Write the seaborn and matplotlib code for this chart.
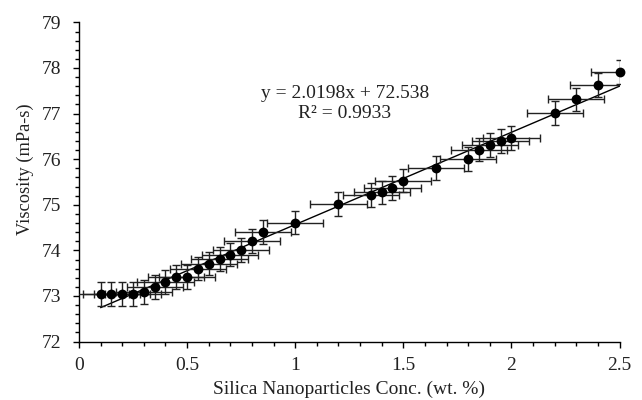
import numpy as np
import pandas as pd
import matplotlib
matplotlib.use("Agg")
import matplotlib.pyplot as plt
import seaborn as sns
from matplotlib.ticker import MultipleLocator, FormatStrFormatter

# Data
conc = [0.10, 0.15, 0.20, 0.25, 0.30, 0.35, 0.40, 0.45, 0.50, 0.55, 0.60,
        0.65, 0.70, 0.75, 0.80, 0.85, 1.00, 1.20, 1.35, 1.40, 1.45, 1.50,
        1.65, 1.80, 1.85, 1.90, 1.95, 2.00, 2.20, 2.30, 2.40, 2.50]
viscosity = [73.05, 73.05, 73.05, 73.05, 73.08, 73.20, 73.31, 73.41, 73.41,
             73.60, 73.71, 73.81, 73.91, 74.01, 74.20, 74.41, 74.61, 75.01,
             75.21, 75.27, 75.37, 75.53, 75.81, 76.01, 76.21, 76.31, 76.40,
             76.46, 77.01, 77.31, 77.62, 77.91]
x_err = 0.13
y_err = 0.26
eq_text = "y = 2.0198x + 72.538"
r2_text = "R² = 0.9933"
x_label = "Silica Nanoparticles Conc. (wt. %)"
y_label = "Viscosity (mPa-s)"

df = pd.DataFrame({"conc": conc, "visc": viscosity})

sns.set_theme(style="ticks")
plt.rcParams["font.family"] = ["Liberation Serif", "DejaVu Serif"]

fig = plt.figure(figsize=(6.42, 4.0), dpi=100)
ax = fig.add_axes([0.123, 0.146, 0.842, 0.798])

# trend line
sns.regplot(data=df, x="conc", y="visc", ax=ax, scatter=False, ci=None,
            truncate=True, color="black", line_kws={"lw": 1.0, "zorder": 2})

# error bars
ax.errorbar(df["conc"], df["visc"], xerr=x_err, yerr=y_err, fmt="none",
            ecolor="#222222", elinewidth=1.0, capsize=2.8, capthick=1.0,
            zorder=3)

# points
sns.scatterplot(data=df, x="conc", y="visc", ax=ax, color="black", s=50,
                edgecolor="black", linewidth=0, zorder=4, clip_on=False)

ax.set_xlim(0, 2.5)
ax.set_ylim(72, 79)
ax.xaxis.set_major_locator(MultipleLocator(0.5))
ax.xaxis.set_minor_locator(MultipleLocator(0.1))
ax.yaxis.set_major_locator(MultipleLocator(1))
ax.yaxis.set_minor_locator(MultipleLocator(0.2))
ax.xaxis.set_major_formatter(FormatStrFormatter("%g"))
ax.yaxis.set_major_formatter(FormatStrFormatter("%g"))

ax.tick_params(axis="both", which="major", direction="out", length=4,
               width=1, color="black", labelsize=14, labelcolor="#222222")
ax.tick_params(axis="both", which="minor", direction="out", length=3,
               width=1, color="black")
ax.tick_params(axis="y", which="major", pad=9)
ax.tick_params(axis="x", which="major", pad=7)

for side in ["top", "right"]:
    ax.spines[side].set_visible(False)
for side in ["left", "bottom"]:
    ax.spines[side].set_color("black")
    ax.spines[side].set_linewidth(1.0)

ax.set_xlabel(x_label, fontsize=14, color="#222222", labelpad=5)
ax.set_ylabel(y_label, fontsize=13.2, color="#222222")
ax.yaxis.set_label_coords(-0.083, 0.541)

ax.text(1.23, 77.45, eq_text, ha="center", va="center", fontsize=14,
        color="#222222")
ax.text(1.23, 77.01, r2_text, ha="center", va="center", fontsize=14,
        color="#222222")

fig.savefig("out.png", dpi=100, facecolor="white")
